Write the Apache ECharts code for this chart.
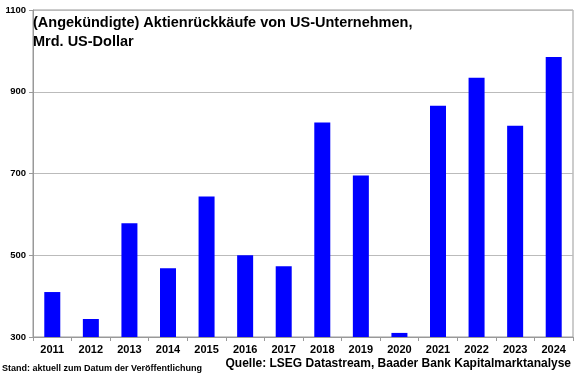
<!DOCTYPE html>
<html>
<head>
<meta charset="utf-8">
<script src="https://cdn.jsdelivr.net/npm/echarts@6/dist/echarts.min.js"></script>
<style>
  html, body { margin: 0; padding: 0; background: #fff; }
  #chart { width: 580px; height: 375px; }
</style>
</head>
<body>
<div id="chart"></div>
<script>
const years = ['2011', '2012', '2013', '2014', '2015', '2016', '2017', '2018', '2019', '2020', '2021', '2022', '2023', '2024']
const buybacks = [410, 344, 578, 468, 644, 500, 473, 825, 695, 310, 866, 934, 817, 985]
const yTicks = [300, 500, 700, 900, 1100]

const chart = echarts.init(document.getElementById('chart'))
const font = 'Liberation Sans, Arial, sans-serif'
const option = {
  backgroundColor: '#fff',
  animation: false,
  title: [
    {
      text: '(Angekündigte) Aktienrückkäufe von US-Unternehmen,\nMrd. US-Dollar',
      left: 33,
      top: 13,
      padding: 0,
      textStyle: {
        fontFamily: font,
        fontSize: 14.5,
        fontWeight: 'bold',
        color: '#000',
        lineHeight: 19,
      },
    },
    {
      text: 'Quelle: LSEG Datastream, Baader Bank Kapitalmarktanalyse',
      right: 9,
      top: 358,
      padding: 0,
      textStyle: {
        fontFamily: font,
        fontSize: 12,
        fontWeight: 'bold',
        color: '#000',
      },
    },
    {
      text: 'Stand: aktuell zum Datum der Veröffentlichung',
      left: 2,
      top: 364,
      padding: 0,
      textStyle: {
        fontFamily: font,
        fontSize: 9,
        fontWeight: 'bold',
        color: '#000',
      },
    },
  ],
  grid: {
    left: 33,
    right: 7,
    top: 10,
    bottom: 38,
    show: true,
    borderColor: '#999',
    borderWidth: 1,
  },
  xAxis: {
    type: 'category',
    data: years,
    axisLine: { lineStyle: { color: '#999' } },
    axisTick: { show: true, alignWithLabel: false, length: 4, lineStyle: { color: '#999' } },
    axisLabel: {
      fontFamily: font,
      fontSize: 11,
      fontWeight: 'bold',
      color: '#000',
      margin: 7,
    },
  },
  yAxis: {
    type: 'value',
    min: yTicks[0],
    max: yTicks[yTicks.length - 1],
    interval: 200,
    axisLine: { show: true, lineStyle: { color: '#999' } },
    axisTick: { show: true, length: 4, lineStyle: { color: '#999' } },
    splitLine: { lineStyle: { color: '#bbb' } },
    axisLabel: {
      fontFamily: font,
      fontSize: 9.5,
      fontWeight: 'bold',
      color: '#000',
      margin: 7,
      formatter: (v) => String(v),
    },
  },
  series: [
    {
      type: 'bar',
      data: buybacks,
      barWidth: 16,
      itemStyle: { color: '#0000ff' },
    },
  ],
}
chart.setOption(option)
</script>
</body>
</html>
